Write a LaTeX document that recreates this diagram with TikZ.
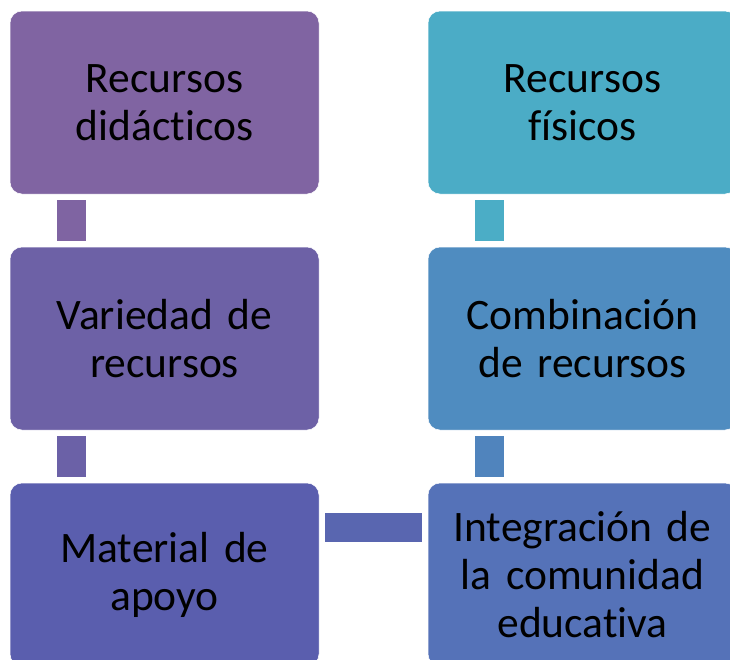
\documentclass[tikz,border=0pt]{standalone}
\usepackage{fontspec}
\setmainfont{Carlito}[RawFeature={-liga;-clig;-dlig;-calt}]
\usepackage{tikz}
\definecolor{cajaA}{HTML}{8064A2}
\definecolor{cajaB}{HTML}{6D61A6}
\definecolor{cajaC}{HTML}{5A5EAE}
\definecolor{cajaD}{HTML}{5572B8}
\definecolor{cajaE}{HTML}{4F8CC0}
\definecolor{cajaF}{HTML}{4BACC6}
\definecolor{barraAB}{HTML}{7F64A2}
\definecolor{barraBC}{HTML}{6B61A7}
\definecolor{barraCD}{HTML}{5966B0}
\definecolor{barraDE}{HTML}{5084BD}
\definecolor{barraEF}{HTML}{4BADC6}

\begin{document}
\begin{tikzpicture}[x=1pt, y=-1pt,
		caja/.style={rectangle, rounded corners=12pt, draw=white, line width=0.5pt, minimum width=309pt, minimum height=183pt, text width=293pt, inner sep=8pt, align=center, text=black, font=\fontsize{43.5}{48}\selectfont},
		barra/.style={line width=29pt, line cap=butt, shorten <=6pt, shorten >=6pt}]
		\useasboundingbox (0,0) rectangle (730,659);
		\clip (0,0) rectangle (730,659);
		\node[caja, fill=cajaA] (didacticos) at (164.5,102.5) {Recursos\\didácticos};
		\node[caja, fill=cajaB] (variedad) at (164.5,338.5) {Variedad de\\recursos};
		\node[caja, fill=cajaC] (material) at (164.5,574.5) {Material de\\apoyo};
		\node[caja, fill=cajaD] (integracion) at (582.5,574.5) {Integración de\\la comunidad\\educativa};
		\node[caja, fill=cajaE] (combinacion) at (582.5,338.5) {Combinación\\de recursos};
		\node[caja, fill=cajaF] (fisicos) at (582.5,102.5) {Recursos\\físicos};
		\draw[barra, draw=barraAB] ([xshift=61.5pt]didacticos.south west) -- ([xshift=61.5pt]variedad.north west);
		\draw[barra, draw=barraBC] ([xshift=61.5pt]variedad.south west) -- ([xshift=61.5pt]material.north west);
		\draw[barra, draw=barraCD] ([yshift=47pt]material.east) -- ([yshift=47pt]integracion.west);
		\draw[barra, draw=barraDE] ([xshift=61.5pt]integracion.north west) -- ([xshift=61.5pt]combinacion.south west);
		\draw[barra, draw=barraEF] ([xshift=61.5pt]combinacion.north west) -- ([xshift=61.5pt]fisicos.south west);
	\end{tikzpicture}
\end{document}
